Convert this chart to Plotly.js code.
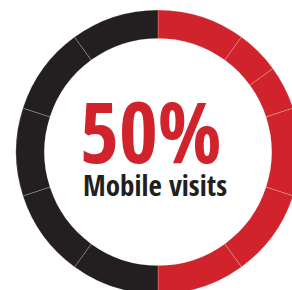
<!DOCTYPE html>
<html>
<head>
<meta charset="utf-8">
<script src="https://cdn.plot.ly/plotly-3.0.1.min.js"></script>
<style>
html,body{margin:0;padding:0;overflow:hidden;background:#fff;width:292px;height:290px;}
#chart{width:320px;height:310px;}
</style>
</head>
<body>
<div id="chart"></div>
<script>
// Segment shares (percent of the ring), clockwise from 12 o'clock
var segmentLabels = ["M1","M2","M3","M4","M5","M6","D1","D2","D3","D4","D5"];
var segmentValues = [10, 5, 5, 10, 10, 10, 10, 10, 10, 10, 10];
var segmentGroups = ["Mobile","Mobile","Mobile","Mobile","Mobile","Mobile","Other","Other","Other","Other","Other"];
var mobileShare = 50;
var centerLabel = "Mobile visits";

var groupColors = {Mobile: "#D0232B", Other: "#231F20"};
var colors = segmentGroups.map(function(g){ return groupColors[g]; });

var W = 320, H = 310;
var cx = 158, cy = 152, R = 142;
var FONT = "Open Sans Condensed, Roboto Condensed, sans-serif";

var trace = {
  type: "pie",
  labels: segmentLabels,
  values: segmentValues,
  sort: false,
  direction: "clockwise",
  rotation: 0,
  hole: 0.8,
  textinfo: "none",
  hoverinfo: "none",
  showlegend: false,
  marker: {colors: colors, line: {color: "rgba(255,255,255,0.35)", width: 0.6}},
  domain: {x: [(cx - R) / W, (cx + R) / W], y: [1 - (cy + R) / H, 1 - (cy - R) / H]}
};

var layout = {
  width: W, height: H,
  margin: {l: 0, r: 0, t: 0, b: 0},
  paper_bgcolor: "#fff",
  showlegend: false,
  annotations: [
    {text: "<b>" + mobileShare + "%</b>", x: 151 / W, y: 1 - 130 / H, xref: "paper", yref: "paper",
     xanchor: "center", yanchor: "middle", showarrow: false,
     font: {family: FONT, size: 84, color: "#D0232B"}},
    {text: "<b>" + centerLabel + "</b>", x: 155 / W, y: 1 - 184 / H, xref: "paper", yref: "paper",
     xanchor: "center", yanchor: "middle", showarrow: false,
     font: {family: FONT, size: 29, color: "#231F20"}}
  ]
};

Plotly.newPlot("chart", [trace], layout, {staticPlot: true, displayModeBar: false});
</script>
</body>
</html>
